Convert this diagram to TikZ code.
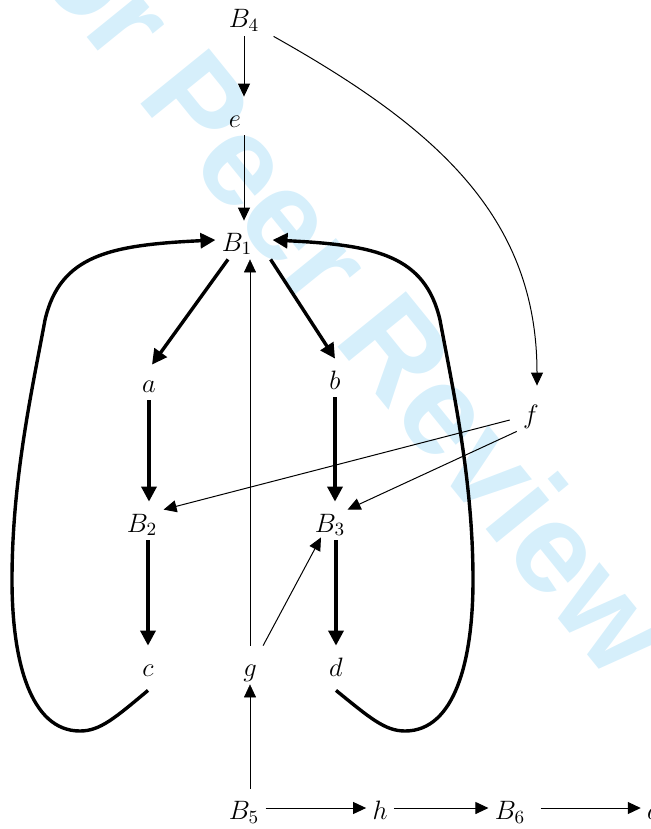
\RequirePackage{fix-cm}
\documentclass[tikz,border=0pt]{standalone}
\usepackage{fontspec}
\newfontfamily\wmfont{Liberation Sans}
\usetikzlibrary{arrows.meta}
\definecolor{wmblue}{RGB}{214,239,251}
\begin{document}
\begin{tikzpicture}[x=0.5pt,y=-0.5pt,
  lbl/.style={anchor=base, inner sep=3pt, text height=12pt, text depth=1pt,
    font=\fontsize{13.3}{16}\selectfont},
  fine/.style={line width=0.5pt, -{Triangle[length=6.5pt,width=6pt]}},
  faint/.style={line width=0.25pt, -{Triangle[length=6.5pt,width=6pt]}},
  heavy/.style={line width=1.7pt, -{Triangle[length=7.5pt,width=7.5pt]}},
  wmark/.style={anchor=base west, rotate=-51, text=wmblue, inner sep=0pt,
    font=\wmfont\bfseries\fontsize{64}{64}\selectfont}]
\useasboundingbox (0,0) rectangle (650,829);
\begin{scope}
\clip (0,0) rectangle (650,829);
\node[wmark] (wm) at (-17,-91) {For Peer Review};

% nodes
\node[lbl] (B4) at (244,28) {$B_4$};
\node[lbl] (e)  at (235,127) {$e$};
\node[lbl] (B1) at (237,251) {$B_1$};
\node[lbl] (a)  at (149,392) {$a$};
\node[lbl] (b)  at (335,389) {$b$};
\node[lbl] (f)  at (531,423) {$f$};
\node[lbl] (B2) at (142,532) {$B_2$};
\node[lbl] (B3) at (330,532) {$B_3$};
\node[lbl] (c)  at (148,676) {$c$};
\node[lbl] (g)  at (250,676) {$g$};
\node[lbl] (d)  at (336,676) {$d$};
\node[lbl] (B5) at (244,819) {$B_5$};
\node[lbl] (h)  at (380,819) {$h$};
\node[lbl] (B6) at (510,819) {$B_6$};
\node[lbl] (x)  at (654,819) {$a$};

% thin edges
\draw[fine] (B4.south) -- (B4.south |- e.north);
\draw[fine] (B4 |- e.south) -- (B4 |- B1.north);
\draw[fine] ([xshift=4pt]B4.south east) .. controls (435,127) and (537,216) .. ([xshift=3pt,yshift=3.5pt]f.north);
\draw[fine] ([xshift=-3.5pt,yshift=-4pt]f.west) -- ([yshift=-4pt]B2.north east);
\draw[fine] (f.south west) -- ([xshift=-2pt,yshift=-4pt]B3.north east);
\draw[fine] (g.north east) -- ([xshift=-4.5pt,yshift=1.5pt]B3.south);
\draw[faint] (g.north) -- (g.north |- B1.south);
\draw[faint] (g |- B5.north) -- (g.south);
\draw[fine] (B5.east) -- (h.west);
\draw[fine] (h.east) -- (B6.west);
\draw[fine] ([xshift=4.5pt]B6.east) -- (x.west);

% thick edges
\draw[heavy] ([xshift=-4.5pt]B1.south) -- ([xshift=1.5pt,yshift=-1.5pt]a.north);
\draw[heavy] ([xshift=6pt]B1.south east) -- (b.north);
\draw[heavy] (a.south) -- (a.south |- B2.north);
\draw[heavy] (b.south) -- (b.south |- B3.north);
\draw[heavy] (c |- B2.south) -- (c.north);
\draw[heavy] (d |- B3.south) -- (d.north);
\draw[heavy] ([yshift=-3pt]c.south) .. controls (115,718) and (100,731) .. (80,731)
  .. controls (30,731) and (12,660) .. (12,580)
  .. controls (12,480) and (32,390) .. (45,320)
  .. controls (60,255) and (110,245) .. (B1.west);
\draw[heavy] ([yshift=-3pt]d.south) .. controls (370,718) and (385,731) .. (405,731)
  .. controls (455,731) and (473,660) .. (473,580)
  .. controls (473,480) and (453,390) .. (440,320)
  .. controls (425,255) and (375,245) .. ([xshift=7pt]B1.east);
\end{scope}
\end{tikzpicture}
\end{document}
